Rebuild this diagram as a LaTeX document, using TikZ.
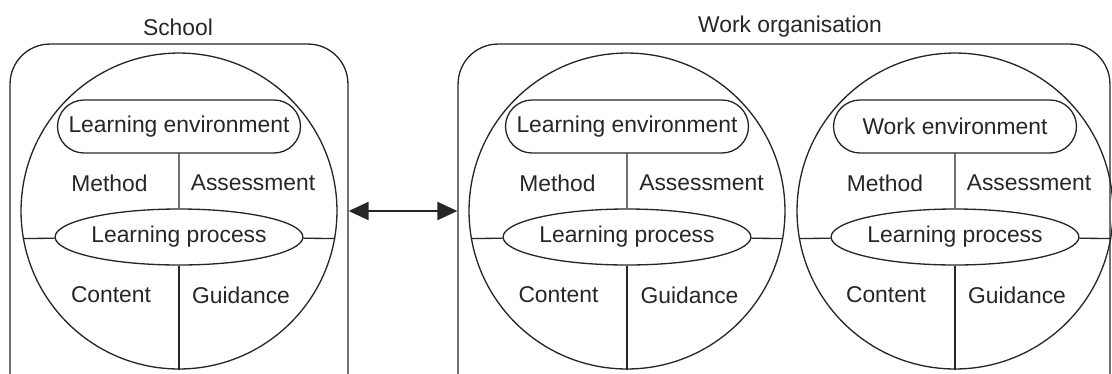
\documentclass[tikz,border=0pt]{standalone}
\usepackage{fontspec}
\setmainfont{Liberation Sans}
\usetikzlibrary{shapes.geometric,shapes.misc,arrows.meta}
\tikzset{
  orgbox/.style={draw, rounded corners=0.8cm, inner sep=0pt},
  part/.style={draw, circle, minimum size=6.32cm, inner sep=0pt},
  envbox/.style={draw, rounded rectangle, minimum width=4.86cm, minimum height=1.06cm, inner sep=0pt},
  proc/.style={draw, ellipse, minimum width=4.52cm, minimum height=1.12cm, inner sep=0pt},
  link/.style={<->, >={Triangle[length=0.4cm,width=0.36cm]}, line width=1.2pt},
}
\begin{document}
\begin{tikzpicture}[x=0.02cm, y=-0.02cm, line width=0.75pt, color=black!85,
    font=\fontsize{13}{15}\selectfont]
      \clip (0,0) rectangle (1112,373);
      % the two settings, cut off at the bottom
      \node[orgbox, minimum width=6.76cm, minimum height=7.4cm] (school) at (179,229) {};
      \node[orgbox, minimum width=13.04cm, minimum height=7.4cm] (work) at (784,229) {};
      \node (schooltitle) at (178,27) {School};
      \node (worktitle) at (790,27) {Work organisation};
      % school
      \node[part] (c1) at (179,211) {};
      \node[envbox] (env1) at (179,126.5) {Learning environment};
      \node[proc] (lp1) at (179,237) {Learning process};
      \node (meth1) at (109.5,183) {Method};
      \node (ass1) at (253,183) {Assessment};
      \node (cont1) at (111,295) {Content};
      \node (guid1) at (241,295) {Guidance};
      \draw (env1) -- (lp1);
      \draw (lp1) -- (c1.south);
      \draw (lp1) -- (c1.190);
      \draw (lp1) -- (c1.-10);
      % work organisation, learning side
      \node[part] (c2) at (627,211) {};
      \node[envbox] (env2) at (627,126.5) {Learning environment};
      \node[proc] (lp2) at (627,237) {Learning process};
      \node (meth2) at (557.5,183) {Method};
      \node (ass2) at (701.5,183) {Assessment};
      \node (cont2) at (558.5,295) {Content};
      \node (guid2) at (689.5,295) {Guidance};
      \draw (env2) -- (lp2);
      \draw (lp2) -- (c2.south);
      \draw (lp2) -- (c2.190);
      \draw (lp2) -- (c2.-10);
      % work organisation, work side
      \node[part] (c3) at (955,211) {};
      \node[envbox] (env3) at (955,126.5) {Work environment};
      \node[proc] (lp3) at (955,237) {Learning process};
      \node (meth3) at (885,183) {Method};
      \node (ass3) at (1029,183) {Assessment};
      \node (cont3) at (886,295) {Content};
      \node (guid3) at (1017,295) {Guidance};
      \draw (env3) -- (lp3);
      \draw (lp3) -- (c3.south);
      \draw (lp3) -- (c3.190);
      \draw (lp3) -- (c3.-10);
      % link between school and work
      \draw[link] (school.east |- c1) -- (work.west |- c1);
    \end{tikzpicture}
\end{document}
